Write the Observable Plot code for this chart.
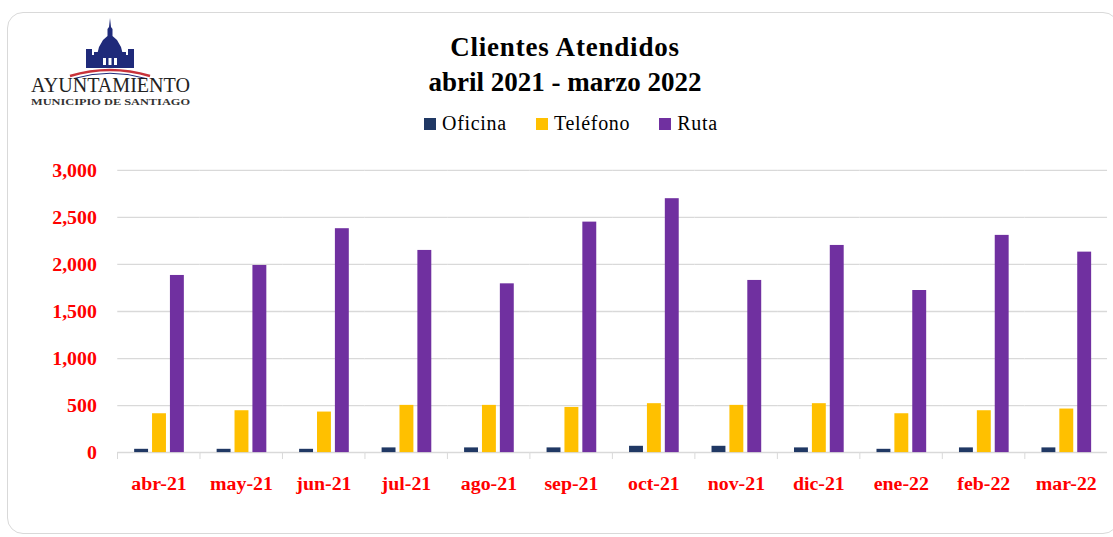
<!DOCTYPE html>
<html>
<head>
<meta charset="utf-8">
<script src="https://cdn.jsdelivr.net/npm/d3@7"></script>
<script src="https://cdn.jsdelivr.net/npm/@observablehq/plot@0.6"></script>
<style>
  html, body { margin: 0; padding: 0; background: #fff; width: 1113px; height: 537px; overflow: hidden; position: relative; }
  #frame { position: absolute; left: 7px; top: 12px; width: 1112px; height: 522px; border: 1.5px solid #d9d9d9; border-radius: 16px; box-sizing: border-box; }
  #logo { position: absolute; left: 0; top: 0; }
  #title { position: absolute; left: 365px; width: 400px; top: 30px; text-align: center; font-family: "Liberation Serif", serif; font-weight: bold; font-size: 27px; line-height: 35px; color: #000; }
  #title .l1 { letter-spacing: 0.8px; }
  #legend { position: absolute; left: 424px; top: 113px; display: flex; gap: 29px; font-family: "Liberation Serif", serif; font-size: 20px; line-height: 20px; letter-spacing: 0.7px; color: #000; }
  #legend .item { display: flex; align-items: baseline; white-space: nowrap; }
  #legend .sw { display: inline-block; width: 12px; height: 12px; margin-right: 6px; }
  #chart { position: absolute; left: 0; top: 150px; }
</style>
</head>
<body>
<div id="frame"></div>
<svg id="logo" width="200" height="110" xmlns="http://www.w3.org/2000/svg">
  <g fill="#1f2a7a">
    <path d="M110,18 L111,27 L112.5,29 L112.5,36 L117,40 L121,47 L123,55 L97,55 L99,47 L103,40 L107.5,36 L107.5,29 L109,27 Z"/>
    <rect x="86" y="55" width="48" height="13"/>
    <rect x="86" y="49" width="6" height="7"/>
    <rect x="128" y="49" width="6" height="7"/>
    <rect x="94" y="52" width="4" height="4"/>
    <rect x="122" y="52" width="4" height="4"/>
  </g>
  <g fill="#ffffff">
    <rect x="103" y="58" width="3" height="7"/>
    <rect x="108.5" y="58" width="3" height="7"/>
    <rect x="114" y="58" width="3" height="7"/>
  </g>
  <path d="M70,76 Q110,64 150,76" fill="none" stroke="#c8323a" stroke-width="2.5"/>
  <path d="M74,78.5 Q110,68 146,78.5" fill="none" stroke="#1f2a7a" stroke-width="1"/>
  <text x="31" y="92" textLength="159" lengthAdjust="spacingAndGlyphs" font-family="Liberation Serif" font-size="20" fill="#222">AYUNTAMIENTO</text>
  <text x="31" y="105" textLength="159" lengthAdjust="spacingAndGlyphs" font-family="Liberation Serif" font-weight="bold" font-size="8" fill="#333">MUNICIPIO DE SANTIAGO</text>
</svg>
<div id="title"><span class="l1">Clientes Atendidos</span><br>abril 2021 - marzo 2022</div>
<div id="legend"></div>
<div id="chart"></div>
<script>
// ---- data ----
const months = ["abr-21","may-21","jun-21","jul-21","ago-21","sep-21","oct-21","nov-21","dic-21","ene-22","feb-22","mar-22"];
const series = ["Oficina","Teléfono","Ruta"];
const colors = ["#203864","#FFC000","#7030A0"];
const oficina  = [35, 35, 35, 50, 50, 50, 67, 67, 50, 35, 50, 50];
const telefono = [413, 445, 431, 502, 502, 480, 520, 502, 520, 413, 445, 463];
const ruta     = [1883, 1989, 2380, 2149, 1794, 2450, 2699, 1830, 2202, 1723, 2309, 2131];
const yTicks = [0, 500, 1000, 1500, 2000, 2500, 3000];

// ---- table ----
const valuesBySeries = [oficina, telefono, ruta];
const table = [];
months.forEach((m, i) => {
  series.forEach((s, j) => table.push({month: m, series: s, value: valuesBySeries[j][i]}));
});

// ---- legend ----
const legend = document.getElementById("legend");
series.forEach((s, j) => {
  const it = document.createElement("span");
  it.className = "item";
  const sw = document.createElement("span");
  sw.className = "sw";
  sw.style.background = colors[j];
  it.appendChild(sw);
  it.appendChild(document.createTextNode(s));
  legend.appendChild(it);
});

// ---- chart ----
const bandW = (1117 - 115) / months.length;
const chart = Plot.plot({
  width: 1120,
  height: 360,
  marginTop: 20,
  marginBottom: 56,
  marginLeft: 115,
  marginRight: 3,
  style: {fontFamily: "Liberation Serif", fontSize: "20px", fontWeight: "bold", background: "transparent"},
  fx: {domain: months, padding: 0, label: null},
  x: {domain: series, paddingInner: 0.25, paddingOuter: 0.82, axis: null},
  y: {domain: [0, 3000], label: null},
  color: {domain: series, range: colors},
  marks: [
    Plot.gridY(yTicks.slice(1), {stroke: "#d9d9d9", strokeOpacity: 1, strokeWidth: 1.3}),
    Plot.ruleY([0], {stroke: "#d9d9d9", strokeWidth: 1.5}),
    Plot.barY(table, {fx: "month", x: "series", y: "value", fill: "series"}),
    Plot.axisY(yTicks, {tickFormat: d3.format(","), tickSize: 0, tickPadding: 21, fill: "red", fontSize: 20, fontWeight: "bold", label: null}),
    Plot.axisFx({anchor: "bottom", tickSize: 0, tickPadding: 23, fill: "red", fontSize: 20, fontWeight: "bold", label: null}),
    Plot.axisFx({anchor: "bottom", tickSize: 7, tickFormat: () => "", stroke: "#d9d9d9", dx: -bandW / 2, label: null})
  ]
});
document.getElementById("chart").appendChild(chart);
</script>
</body>
</html>
